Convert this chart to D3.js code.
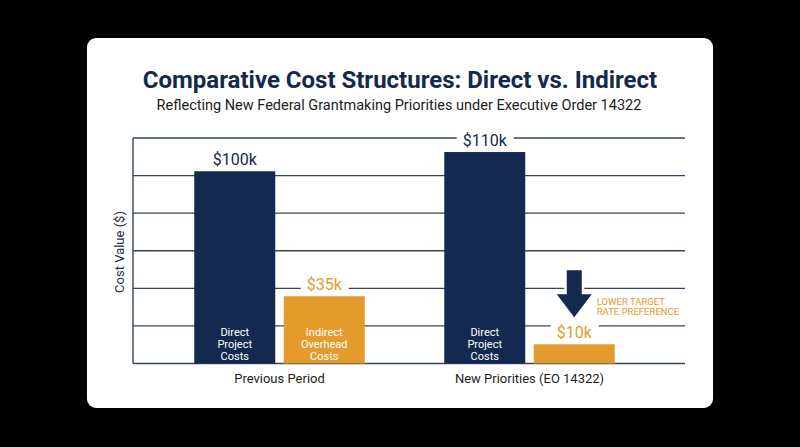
<!DOCTYPE html>
<html>
<head>
<meta charset="utf-8">
<script src="https://cdn.jsdelivr.net/npm/d3@7"></script>
<style>
  html, body { margin: 0; padding: 0; background: #000; }
  svg { display: block; font-family: Roboto, "Noto Sans", sans-serif; }
</style>
</head>
<body>
<svg id="chart" width="800" height="447"></svg>
<script>
// chart values
const periods = ["Previous Period", "New Priorities (EO 14322)"];
const costTypes = ["direct", "indirect"];
const directValues = [100, 110];
const indirectValues = [35, 10];
const innerLabels = [["Direct", "Project", "Costs"], ["Indirect", "Overhead", "Costs"]];
const noteLines = ["LOWER TARGET", "RATE PREFERENCE"];

const navy = "#14294f";
const orange = "#e39b2e";
const gridColor = "#34445f";

const svg = d3.select("#chart");

// card
svg.append("rect")
  .attr("x", 87).attr("y", 38)
  .attr("width", 626).attr("height", 370)
  .attr("rx", 9)
  .attr("fill", "#fff");

svg.append("text")
  .attr("x", 400).attr("y", 87.5)
  .attr("text-anchor", "middle")
  .attr("font-size", 24).attr("font-weight", 700)
  .attr("fill", navy)
  .text("Comparative Cost Structures: Direct vs. Indirect");

svg.append("text")
  .attr("x", 399).attr("y", 110)
  .attr("text-anchor", "middle")
  .attr("font-size", 14.5)
  .attr("fill", "#1c1c1c")
  .text("Reflecting New Federal Grantmaking Priorities under Executive Order 14322");

// scales
const plotLeft = 133, plotRight = 685;
const yMax = 117.3;
const y = d3.scaleLinear().domain([0, yMax]).range([363.5, 138]);
const x = d3.scaleBand().domain(periods).range([154.5, 654.5]);
const xSub = d3.scaleBand().domain(costTypes).range([0, 170.5]).paddingInner(0.095);

const rows = periods.map((p, i) => ({
  period: p,
  bars: [
    { type: "direct", value: directValues[i], lines: innerLabels[0] },
    { type: "indirect", value: indirectValues[i], lines: innerLabels[1] }
  ]
}));

// gridlines
const g = svg.append("g");
g.selectAll("line.grid")
  .data(d3.range(0, 7).map(i => yMax * i / 6))
  .join("line")
  .attr("class", "grid")
  .attr("x1", plotLeft).attr("x2", plotRight)
  .attr("y1", d => y(d)).attr("y2", d => y(d))
  .attr("stroke", gridColor)
  .attr("stroke-width", 1.4);

g.append("line")
  .attr("x1", plotLeft).attr("x2", plotLeft)
  .attr("y1", y(yMax)).attr("y2", y(0))
  .attr("stroke", gridColor).attr("stroke-width", 1.4);

// y label
svg.append("text")
  .attr("transform", `translate(124,252) rotate(-90)`)
  .attr("text-anchor", "middle")
  .attr("font-size", 13)
  .attr("fill", "#1d2b45")
  .text("Cost Value ($)");

// category labels
svg.selectAll("text.cat")
  .data(periods)
  .join("text")
  .attr("class", "cat")
  .attr("x", d => x(d) + x.bandwidth() / 2)
  .attr("y", 383)
  .attr("text-anchor", "middle")
  .attr("font-size", 13)
  .attr("fill", "#1e1e1e")
  .text(d => d);

const groups = svg.selectAll("g.period")
  .data(rows)
  .join("g")
  .attr("class", "period")
  .attr("transform", d => `translate(${x(d.period) + x.bandwidth() / 2 - 85.25},0)`);

const bar = groups.selectAll("g.bar")
  .data(d => d.bars)
  .join("g")
  .attr("class", "bar");

bar.append("rect")
  .attr("x", d => xSub(d.type))
  .attr("width", xSub.bandwidth())
  .attr("y", d => y(d.value))
  .attr("height", d => y(0) - y(d.value))
  .attr("fill", d => d.type === "direct" ? navy : orange);

// value labels with white backing to cut gridlines
bar.each(function(d) {
  const sel = d3.select(this);
  const cx = xSub(d.type) + xSub.bandwidth() / 2;
  const t = sel.append("text")
    .attr("x", cx)
    .attr("y", y(d.value) - 6)
    .attr("text-anchor", "middle")
    .attr("font-size", 16)
    .attr("fill", d.type === "direct" ? navy : orange)
    .text("$" + d.value + "k");
  const bb = t.node().getBBox();
  sel.insert("rect", "text")
    .attr("x", bb.x - 6).attr("y", bb.y)
    .attr("width", bb.width + 12).attr("height", bb.height)
    .attr("fill", "#fff");

  // inner labels only where the bar is tall enough
  if (y(0) - y(d.value) > 45) {
    sel.append("text")
      .attr("text-anchor", "middle")
      .attr("font-size", 11)
      .attr("fill", "#fff")
      .selectAll("tspan")
      .data(d.lines)
      .join("tspan")
      .attr("x", cx)
      .attr("y", (l, i) => y(0) - 4 - (d.lines.length - 1 - i) * 11.8)
      .text(l => l);
  }
});

// arrow + note over the new indirect bar
const target = rows[1].bars[1];
const ax = x(rows[1].period) + x.bandwidth() / 2 - 85.25 + xSub(target.type) + xSub.bandwidth() / 2;
const tipY = y(target.value) - 27;
const arrow = d3.path();
arrow.moveTo(ax - 7.5, tipY - 47);
arrow.lineTo(ax + 7.5, tipY - 47);
arrow.lineTo(ax + 7.5, tipY - 23);
arrow.lineTo(ax + 17.5, tipY - 23);
arrow.lineTo(ax, tipY);
arrow.lineTo(ax - 17.5, tipY - 23);
arrow.lineTo(ax - 7.5, tipY - 23);
arrow.closePath();
svg.append("path")
  .attr("d", arrow.toString())
  .attr("fill", navy)
  .attr("stroke", "#fff")
  .attr("stroke-width", 5)
  .attr("stroke-linejoin", "miter")
  .attr("paint-order", "stroke");

svg.append("text")
  .attr("font-size", 9.5)
  .attr("fill", orange)
  .selectAll("tspan")
  .data(noteLines)
  .join("tspan")
  .attr("x", ax + 22.5)
  .attr("y", (l, i) => tipY - 12 + i * 10)
  .text(l => l);
</script>
</body>
</html>
